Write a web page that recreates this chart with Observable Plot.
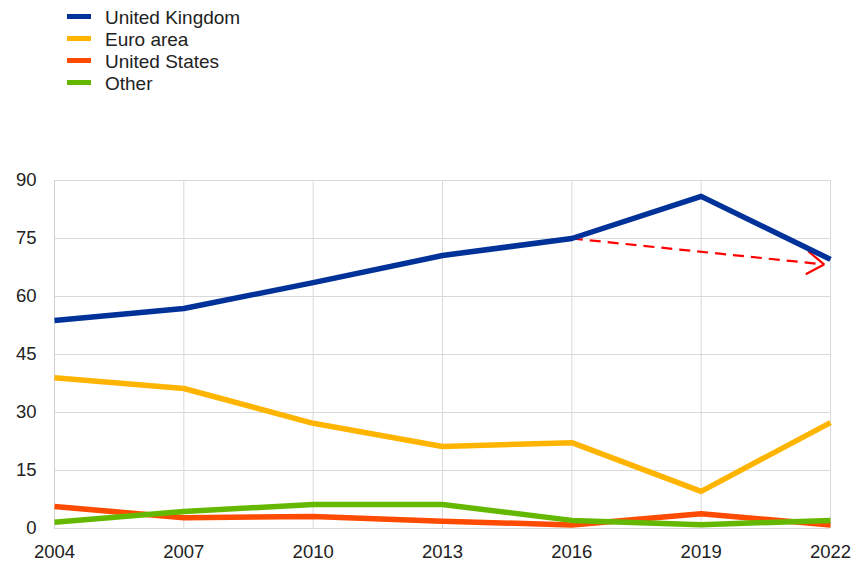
<!DOCTYPE html>
<html>
<head>
<meta charset="utf-8">
<script src="https://cdn.jsdelivr.net/npm/d3@7"></script>
<script src="https://cdn.jsdelivr.net/npm/@observablehq/plot@0.6"></script>
<style>
  body { margin: 0; background: #fff; font-family: Arial, "Liberation Sans", sans-serif; }
  #wrap { width: 854px; height: 562px; position: relative; }
  #legend { height: 100px; position: relative; }
  .item { position: absolute; left: 67px; height: 22px; display: flex; align-items: center; font-size: 19px; color: #222; white-space: nowrap; }
  .swatch { width: 24px; height: 5px; margin-right: 14px; position: relative; top: -2px; }
</style>
</head>
<body>
<div id="wrap">
  <div id="legend"></div>
  <div id="chart"></div>
</div>
<script>
const years = [2004, 2007, 2010, 2013, 2016, 2019, 2022];
const seriesNames = ["United Kingdom", "Euro area", "United States", "Other"];
const colors = ["#003299", "#FFB400", "#FF4B00", "#65B800"];
const unitedKingdom = [53.8, 56.9, 63.6, 70.6, 75.0, 85.9, 69.6];
const euroArea = [39.0, 36.2, 27.2, 21.2, 22.2, 9.6, 27.4];
const unitedStates = [5.7, 2.8, 3.1, 1.9, 0.9, 3.8, 0.9];
const other = [1.6, 4.4, 6.2, 6.2, 2.1, 1.0, 2.1];
const yTicks = [0, 15, 30, 45, 60, 75, 90];
const arrowStart = {year: 2016, value: 75.0};
const arrowEnd = {year: 2021.85, value: 68.3};

const allValues = [unitedKingdom, euroArea, unitedStates, other];
const data = [];
seriesNames.forEach((s, i) => years.forEach((y, j) => data.push({series: s, year: y, value: allValues[i][j]})));

// legend
const legend = document.getElementById("legend");
seriesNames.forEach((s, i) => {
  const d = document.createElement("div");
  d.className = "item";
  d.style.top = (7 + i * 22) + "px";
  d.innerHTML = `<span class="swatch" style="background:${colors[i]}"></span><span>${s}</span>`;
  legend.appendChild(d);
});

const chart = Plot.plot({
  width: 854,
  height: 462,
  marginTop: 80,
  marginBottom: 34,
  marginLeft: 54,
  marginRight: 24,
  style: {fontFamily: "Arial, 'Liberation Sans', sans-serif", fontSize: "18.5px", color: "#222", background: "#fff"},
  x: {domain: [2004, 2022], label: null},
  y: {domain: [0, 90], label: null},
  color: {domain: seriesNames, range: colors},
  marks: [
    Plot.gridY(yTicks, {stroke: "#d9d9d9", strokeOpacity: 1, strokeWidth: 1}),
    Plot.gridX(years, {stroke: "#d9d9d9", strokeOpacity: 1, strokeWidth: 1}),
    Plot.ruleX([2004], {stroke: "#d0d0d0"}),
    Plot.axisX({ticks: years, tickFormat: "d", tickSize: 0, tickPadding: 16, fill: "#222"}),
    Plot.axisY({ticks: yTicks, tickSize: 0, tickPadding: 18, fill: "#222"}),
    Plot.arrow([{}], {x1: () => arrowStart.year, y1: () => arrowStart.value, x2: () => arrowEnd.year, y2: () => arrowEnd.value, stroke: "#FF0000", strokeWidth: 2.2, headLength: 13.5, headAngle: 68}),
    Plot.line(data, {x: "year", y: "value", z: "series", stroke: "series", strokeWidth: 5.5, strokeLinejoin: "round", strokeLinecap: "butt"})
  ]
});
document.getElementById("chart").appendChild(chart);

// dashed shaft, solid head: split the arrow's path into its two subpaths
d3.select(chart).selectAll("g[aria-label=arrow] path").each(function () {
  const d = this.getAttribute("d");
  const k = d.indexOf("M", 1);
  if (k > 0) {
    const head = this.cloneNode();
    head.setAttribute("d", d.slice(k));
    this.setAttribute("d", d.slice(0, k));
    this.setAttribute("stroke-dasharray", "11,7");
    this.setAttribute("stroke-linecap", "butt");
    this.parentNode.appendChild(head);
  }
});
</script>
</body>
</html>
